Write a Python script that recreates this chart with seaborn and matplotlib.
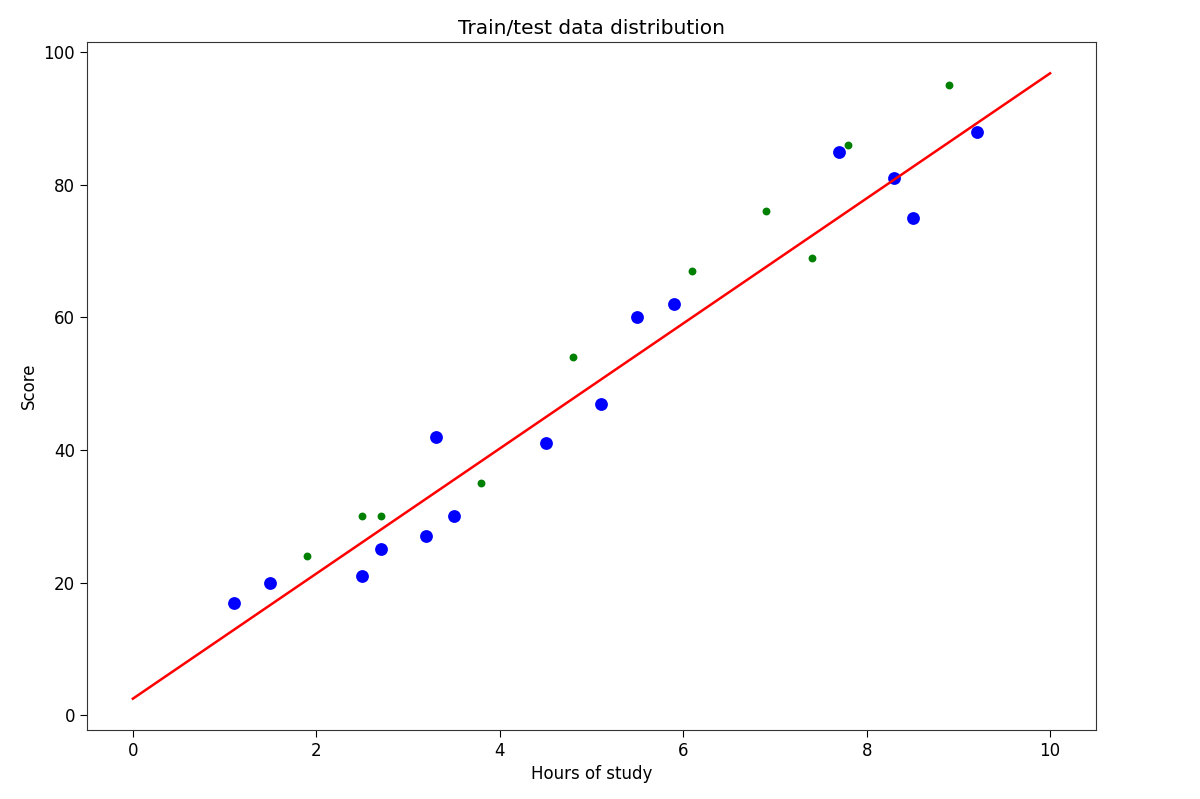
import matplotlib
matplotlib.use("Agg")
import matplotlib.pyplot as plt
import seaborn as sns
import pandas as pd

# train points (blue)
train_hours = [2.5, 5.1, 3.2, 8.5, 3.5, 1.5, 9.2, 5.5, 8.3, 2.7, 7.7, 5.9, 4.5, 3.3, 1.1]
train_scores = [21, 47, 27, 75, 30, 20, 88, 60, 81, 25, 85, 62, 41, 42, 17]

# test points (green)
test_hours = [8.9, 2.5, 1.9, 6.1, 7.4, 2.7, 4.8, 3.8, 6.9, 7.8]
test_scores = [95, 30, 24, 67, 69, 30, 54, 35, 76, 86]

# fitted line
line_x = [0, 10]
line_y = [2.5, 96.8]

df_train = pd.DataFrame({"Hours": train_hours, "Score": train_scores})
df_test = pd.DataFrame({"Hours": test_hours, "Score": test_scores})
df_line = pd.DataFrame({"Hours": line_x, "Score": line_y})

fig, ax = plt.subplots(figsize=(12, 7.99), dpi=100)
fig.subplots_adjust(left=0.0725, right=0.9133, top=0.9474, bottom=0.0864)

sns.scatterplot(data=df_train, x="Hours", y="Score", color="blue", s=85, linewidth=0, ax=ax)
sns.scatterplot(data=df_test, x="Hours", y="Score", color="green", s=32, linewidth=0, ax=ax)
sns.lineplot(data=df_line, x="Hours", y="Score", color="red", linewidth=1.8, ax=ax)

ax.set_title("Train/test data distribution", fontsize=14.5)
ax.set_xlabel("Hours of study", fontsize=12)
ax.set_ylabel("Score", fontsize=12)
ax.tick_params(labelsize=12, length=5)
for sp in ax.spines.values():
    sp.set_color("#333333")

plt.savefig("out.png", dpi=100)
